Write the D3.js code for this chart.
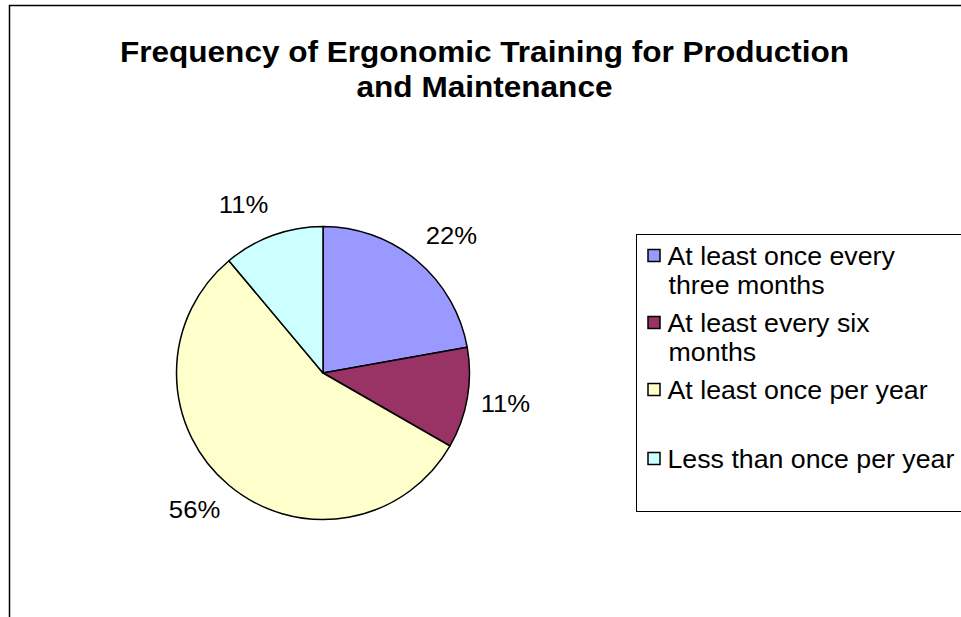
<!DOCTYPE html>
<html>
<head>
<meta charset="utf-8">
<script src="https://cdn.jsdelivr.net/npm/d3@7"></script>
<style>
  html, body { margin: 0; padding: 0; background: #fff; }
  svg { display: block; font-family: "Liberation Sans", Arial, sans-serif; }
</style>
</head>
<body>
<svg id="chart" width="961" height="617"></svg>
<script>
// chart data
const categories = [
  "At least once every three months",
  "At least every six months",
  "At least once per year",
  "Less than once per year"
];
const legendLines = [
  ["At least once every", "three months"],
  ["At least every six", "months"],
  ["At least once per year"],
  ["Less than once per year"]
];
const percents = [22.2, 11.1, 55.6, 11.1];
const colors = ["#9999FF", "#993366", "#FFFFCC", "#CCFFFF"];
const titleLines = ["Frequency of Ergonomic Training for Production", "and Maintenance"];

const svg = d3.select("#chart");
const stretch = 1.07; // source text is a bit wider than Liberation Sans

// outer chart frame (only top and left edges fall inside the window)
svg.append("rect")
  .attr("x", 9.5).attr("y", 5.5)
  .attr("width", 1000).attr("height", 700)
  .attr("fill", "#fff")
  .attr("stroke", "#000").attr("stroke-width", 1.5);

// title
svg.append("text")
  .attr("transform", `translate(484.5,62) scale(${stretch},1)`)
  .attr("text-anchor", "middle")
  .style("font-size", "29.5px").style("font-weight", "bold")
  .selectAll("tspan")
  .data(titleLines)
  .join("tspan")
  .attr("x", 0)
  .attr("dy", (d, i) => i === 0 ? 0 : 35)
  .text(d => d);

// pie
const cx = 323, cy = 373, r = 146.5;
const pie = d3.pie().sort(null).value(d => d)(percents);
const arc = d3.arc().innerRadius(0).outerRadius(r);

const g = svg.append("g").attr("transform", `translate(${cx},${cy})`);
g.selectAll("path")
  .data(pie)
  .join("path")
  .attr("d", arc)
  .attr("fill", (d, i) => colors[i])
  .attr("stroke", "#000")
  .attr("stroke-width", 1.5)
  .attr("stroke-linejoin", "round");

// data labels outside the pie
const labelFont = 24;
g.selectAll("text.lbl")
  .data(pie)
  .join("text")
  .attr("class", "lbl")
  .style("font-size", labelFont + "px")
  .attr("text-anchor", "middle")
  .attr("dominant-baseline", "central")
  .text(d => Math.round(d.data) + "%")
  .each(function (d) {
    const a = (d.startAngle + d.endAngle) / 2;
    const w = this.getComputedTextLength() * stretch;
    const h = labelFont * 0.72;
    const s = Math.sin(a), c = -Math.cos(a);
    const x = 160 * s + Math.sign(s) * w / 2;
    const y = 170 * c + c * h / 2;
    d3.select(this).attr("transform", `translate(${x},${y}) scale(${stretch},1)`);
  });

// legend
const lx = 636.5, ly = 234.5;
svg.append("rect")
  .attr("x", lx).attr("y", ly)
  .attr("width", 400).attr("height", 277)
  .attr("fill", "#fff")
  .attr("stroke", "#000").attr("stroke-width", 1);

const rowY = [256, 323, 390, 459];
const lineH = 29;
const items = svg.append("g").selectAll("g")
  .data(categories)
  .join("g")
  .attr("transform", (d, i) => `translate(${lx + 11},${rowY[i]})`);

items.append("rect")
  .attr("x", 0.5).attr("y", -6.5)
  .attr("width", 12).attr("height", 12)
  .attr("fill", (d, i) => colors[i])
  .attr("stroke", "#000").attr("stroke-width", 1.5);

items.append("text")
  .attr("transform", `translate(20,0) scale(${stretch},1)`)
  .style("font-size", "25px")
  .selectAll("tspan")
  .data((d, i) => legendLines[i])
  .join("tspan")
  .attr("x", (d, i) => i === 0 ? 0 : 1)
  .attr("dy", (d, i) => i === 0 ? 9 : lineH)
  .text(d => d);
</script>
</body>
</html>
